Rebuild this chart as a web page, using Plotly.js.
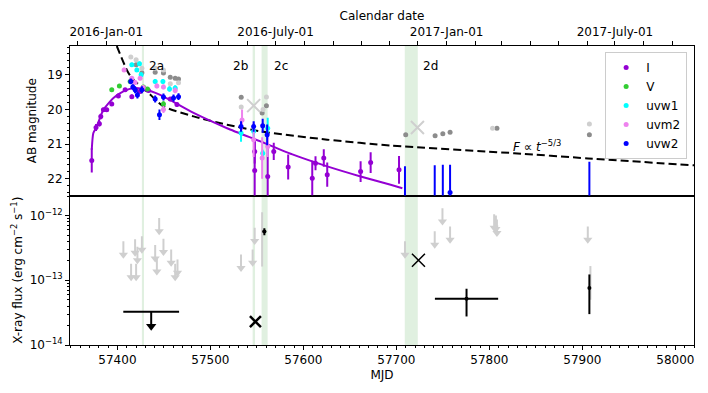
<!DOCTYPE html>
<html>
<head>
<meta charset="utf-8">
<script src="https://cdn.plot.ly/plotly-3.0.1.min.js"></script>
<style>
  html, body { margin: 0; padding: 0; background: #fff; }
  #plot { width: 708px; height: 393px; }
</style>
</head>
<body>
<div id="plot"></div>
<script>
// ---- optical / UV photometry (AB mag) ----
var iMjd = [57372.4, 57377.0, 57380.6, 57382.1, 57384.9, 57388.5, 57393.9, 57401.0, 57408.3, 57415.5, 57420.1, 57424.4, 57429.8, 57433.4, 57456.8, 57464.0, 57547.6, 57547.6, 57561.6, 57568.1, 57583.6, 57609.5, 57613.0, 57621.9, 57625.6, 57661.5, 57672.3, 57702.8];
var iMag = [21.47, 20.52, 20.41, 20.20, 20.01, 20.01, 19.84, 19.61, 19.43, 19.63, 19.43, 19.48, 19.41, 19.45, 19.70, 19.86, 21.21, 21.76, 21.93, 21.21, 21.66, 21.98, 21.55, 21.40, 21.88, 21.79, 21.53, 21.74];
var iErr = [0.35, 0.1, 0.08, 0.08, 0.06, 0.06, 0.06, 0.06, 0.05, 0.06, 0.05, 0.05, 0.05, 0.05, 0.06, 0.06, 0.35, 0.9, 0.86, 0.25, 0.36, 0.5, 0.2, 0.25, 0.35, 0.3, 0.3, 0.4];

var vMjd = [57393.9, 57402.1, 57413.7, 57427.9, 57432.3, 57449.5];
var vMag = [19.43, 19.32, 19.19, 19.35, 19.41, 19.84];
var vErr = [0.04, 0.04, 0.04, 0.05, 0.05, 0.08];

var w1Mjd = [57415.5, 57420.9, 57423.7, 57425.5, 57440.6, 57448.9, 57456.0, 57462.1, 57532.9, 57546.5, 57556.2, 57561.6];
var w1Mag = [18.71, 18.86, 18.68, 19.00, 19.19, 19.19, 19.41, 19.38, 20.68, 20.63, 21.26, 20.54];
var w1Err = [0.06, 0.06, 0.06, 0.07, 0.07, 0.07, 0.08, 0.08, 0.25, 0.2, 0.1, 0.3];

var m2Mjd = [57407.2, 57415.5, 57419.0, 57424.4, 57427.7, 57442.4, 57449.5, 57449.5, 57462.1, 57534.0, 57546.5, 57555.6, 57561.6];
var m2Mag = [18.86, 19.10, 19.22, 19.10, 19.37, 19.32, 19.35, 20.00, 19.45, 20.30, 20.87, 21.40, 21.07];
var m2Err = [0.06, 0.06, 0.07, 0.06, 0.07, 0.07, 0.07, 0.1, 0.08, 0.3, 0.5, 0.6, 0.3];

var w2Mjd = [57414.4, 57416.6, 57419.0, 57421.5, 57426.3, 57440.6, 57445.2, 57449.5, 57460.3, 57465.7, 57532.9, 57546.5, 57556.2, 57561.0];
var w2Mag = [19.19, 19.35, 19.43, 19.58, 19.43, 19.70, 20.15, 19.64, 19.67, 19.63, 20.49, 20.49, 20.47, 20.73];
var w2Err = [0.08, 0.08, 0.1, 0.1, 0.1, 0.1, 0.15, 0.1, 0.1, 0.1, 0.15, 0.15, 0.2, 0.3];

// uvw2 late epochs: faint points, error bar reaching up into the panel
var w2LimMjd = [57709.2, 57741.2, 57749.9, 57757.7, 57907.5];
var w2LimMag = [23.10, 23.10, 23.10, 22.39, 23.10];
var w2LimErr = [1.46, 1.49, 1.51, 0.80, 1.59];

// host / comparison photometry (grey)
var greyMjd = [57420.1, 57426.3, 57440.6, 57449.5, 57456.8, 57462.1, 57465.7, 57533.1, 57555.6, 57560.2, 57710.0, 57741.6, 57749.9, 57757.7, 57808.1, 57907.5];
var greyMag = [18.71, 18.94, 18.93, 18.95, 19.07, 19.10, 19.12, 19.65, 20.10, 19.89, 20.73, 20.76, 20.70, 20.66, 20.54, 20.73];
var lgreyMjd = [57414.4, 57420.1, 57426.3, 57440.6, 57449.5, 57456.8, 57462.1, 57465.7, 57533.1, 57556.6, 57560.2, 57803.4, 57907.5];
var lgreyMag = [18.49, 18.57, 18.81, 18.81, 18.86, 19.26, 19.40, 19.23, 19.93, 20.00, 19.64, 20.54, 20.42];
var lgreyXMjd = [57546.5, 57722.6];
var lgreyXMag = [19.89, 20.52];

// model curves
var fitMjd = [57372.4, 57374.1, 57377.8, 57384.9, 57395.7, 57406.4, 57417.2, 57428.0, 57446.0, 57481.9, 57517.9, 57553.7, 57589.6, 57625.6, 57661.5, 57693.8, 57706.4];
var fitMag = [21.16, 20.68, 20.49, 20.01, 19.67, 19.48, 19.38, 19.41, 19.58, 20.10, 20.54, 20.92, 21.31, 21.64, 21.93, 22.17, 22.27];
var plMjd = [57399.3, 57410.1, 57415.5, 57431.7, 57449.5, 57481.9, 57517.9, 57553.7, 57625.6, 57693.8, 57826.4, 57906.0, 58020.0];
var plMag = [18.17, 18.86, 19.10, 19.48, 19.91, 20.20, 20.44, 20.63, 20.87, 21.04, 21.26, 21.41, 21.61];

// ---- X-ray ----
var xulMjd = [57406.4, 57419.0, 57421.5, 57426.3, 57414.7, 57420.1, 57444.9, 57440.6, 57442.4, 57449.5, 57457.8, 57462.1, 57464.6, 57532.9, 57545.4, 57547.6, 57709.2, 57749.5, 57741.2, 57757.7, 57805.1, 57808.1, 57807.0, 57905.8];
var xulFlux = [4.0e-13, 4.3e-13, 3.3e-13, 4.8e-13, 1.8e-13, 1.8e-13, 9.2e-13, 3.5e-13, 2.2e-13, 4.4e-13, 3.0e-13, 1.8e-13, 2.1e-13, 2.5e-13, 3.0e-13, 6.5e-13, 4.0e-13, 1.3e-12, 5.7e-13, 6.8e-13, 1.05e-12, 8.7e-13, 1.0e-12, 6.8e-13];
var xgMjd = [57555.6, 57908.6];
var xgFlux = [4.3e-13, 9.3e-14];
var xgUp = [7.0e-13, 7.3e-14];
var xgDn = [2.67e-13, 4.3e-14];

var xdMjd = [57558.0, 57775.4, 57907.5];
var xdFlux = [5.66e-13, 5.2e-14, 7.6e-14];
var xdUp = [0.7e-13, 2.2e-14, 4.7e-14];
var xdDn = [0.7e-13, 2.44e-14, 4.6e-14];
var xdXerr = [2, 34, 0];

var stackMjd = 57436.3, stackFlux = 3.25e-14, stackHalf = 30;
var crossMjd = [57548.4, 57723.7];
var crossFlux = [2.3e-14, 2.04e-13];

// epochs of the spectra (shaded)
var bandLo = [57426.3, 57545.4, 57555.0, 57709.0];
var bandHi = [57428.6, 57548.0, 57561.5, 57723.0];
var bandTxt = ["2a", "2b", "2c", "2d"];

var calMonths = [57357, 57419, 57448, 57479, 57509, 57540, 57601, 57632, 57662, 57693, 57723, 57785, 57813, 57844, 57874, 57905, 57966, 57997];
var calVals = [57388, 57570, 57754, 57935];
var calText = ["2016-Jan-01", "2016-July-01", "2017-Jan-01", "2017-July-01"];

var FONT = "DejaVu Sans, sans-serif";
var xr = [57349, 58020];

function phot(name, x, y, e, color) {
    return {
        x: x, y: y, name: name, type: "scatter", mode: "markers",
        xaxis: "x2", yaxis: "y",
        marker: {color: color, size: 5},
        error_y: {type: "data", array: e, color: color, thickness: 2, width: 0}
    };
}

var traces = [];

traces.push({x: greyMjd, y: greyMag, type: "scatter", mode: "markers", xaxis: "x2", yaxis: "y",
    marker: {color: "#8c8c8c", size: 5}, error_y: {type: "constant", value: 0.05, color: "#8c8c8c", thickness: 2, width: 0}, showlegend: false});
traces.push({x: lgreyMjd, y: lgreyMag, type: "scatter", mode: "markers", xaxis: "x2", yaxis: "y",
    marker: {color: "#cfcfcf", size: 5}, error_y: {type: "constant", value: 0.05, color: "#cfcfcf", thickness: 2, width: 0}, showlegend: false});
traces.push({x: lgreyXMjd, y: lgreyXMag, type: "scatter", mode: "markers", xaxis: "x2", yaxis: "y",
    marker: {symbol: "x-thin-open", size: 13, color: "#cfcfcf", line: {color: "#cfcfcf", width: 2}}, showlegend: false});

traces.push({x: plMjd, y: plMag, type: "scatter", mode: "lines", xaxis: "x2", yaxis: "y",
    line: {color: "black", width: 2, dash: "8px,4px", shape: "spline", smoothing: 0.6}, showlegend: false});
traces.push({x: fitMjd, y: fitMag, type: "scatter", mode: "lines", xaxis: "x2", yaxis: "y",
    line: {color: "#9400d3", width: 2, shape: "spline", smoothing: 0.6}, showlegend: false});

traces.push(phot("I", iMjd, iMag, iErr, "#9400d3"));
traces.push(phot("V", vMjd, vMag, vErr, "#32cd32"));
traces.push(phot("uvw1", w1Mjd, w1Mag, w1Err, "#00ffff"));
traces.push(phot("uvm2", m2Mjd, m2Mag, m2Err, "#ee82ee"));
traces.push(phot("uvw2", w2Mjd, w2Mag, w2Err, "#0000ff"));
var lim = phot("uvw2", w2LimMjd, w2LimMag, w2LimErr, "#0000ff");
lim.showlegend = false;
traces.push(lim);

// dummy trace so the calendar axis is drawn
traces.push({x: [xr[0], xr[1]], y: [null, null], type: "scatter", mode: "markers", xaxis: "x3", yaxis: "y", showlegend: false, hoverinfo: "skip"});

// X-ray upper limits: shaft from the limit down, arrow head at the end
var ulTip = xulFlux.map(function (f) { return f * 0.62; });
traces.push({x: xulMjd, y: xulFlux, type: "scatter", mode: "markers", xaxis: "x", yaxis: "y2",
    marker: {size: 1, color: "rgba(0,0,0,0)"},
    error_y: {type: "data", array: xulFlux.map(function () { return 0; }), arrayminus: xulFlux.map(function (f, k) { return f - ulTip[k]; }), color: "#cfcfcf", thickness: 2, width: 0},
    showlegend: false});
traces.push({x: xulMjd, y: ulTip, type: "scatter", mode: "markers", xaxis: "x", yaxis: "y2",
    marker: {symbol: "triangle-down", size: 8, color: "#cfcfcf"}, showlegend: false});
traces.push({x: xgMjd, y: xgFlux, type: "scatter", mode: "markers", xaxis: "x", yaxis: "y2",
    marker: {size: 1, color: "rgba(0,0,0,0)"},
    error_y: {type: "data", array: xgUp, arrayminus: xgDn, color: "#cfcfcf", thickness: 2, width: 0}, showlegend: false});

var stackTip = stackFlux * 0.6;
traces.push({x: [stackMjd], y: [stackFlux], type: "scatter", mode: "markers", xaxis: "x", yaxis: "y2",
    marker: {size: 1, color: "rgba(0,0,0,0)"},
    error_x: {type: "constant", value: stackHalf, color: "black", thickness: 2, width: 0},
    error_y: {type: "data", array: [0], arrayminus: [stackFlux - stackTip], color: "black", thickness: 2, width: 0},
    showlegend: false});
traces.push({x: [stackMjd], y: [stackTip], type: "scatter", mode: "markers", xaxis: "x", yaxis: "y2",
    marker: {symbol: "triangle-down", size: 9, color: "black"}, showlegend: false});

traces.push({x: xdMjd, y: xdFlux, type: "scatter", mode: "markers", xaxis: "x", yaxis: "y2",
    marker: {size: 4, color: "black"},
    error_x: {type: "data", array: xdXerr, color: "black", thickness: 2, width: 0},
    error_y: {type: "data", array: xdUp, arrayminus: xdDn, color: "black", thickness: 2, width: 0}, showlegend: false});
traces.push({x: [crossMjd[0]], y: [crossFlux[0]], type: "scatter", mode: "markers", xaxis: "x", yaxis: "y2",
    marker: {symbol: "x-thin-open", size: 11, color: "black", line: {color: "black", width: 2.5}}, showlegend: false});
traces.push({x: [crossMjd[1]], y: [crossFlux[1]], type: "scatter", mode: "markers", xaxis: "x", yaxis: "y2",
    marker: {symbol: "x-thin-open", size: 13, color: "black", line: {color: "black", width: 1.5}}, showlegend: false});

// shaded epochs + labels
var shapes = [];
var annotations = [];
var shift = [3, -3, 4, 3];
for (var k = 0; k < bandLo.length; k++) {
    shapes.push({type: "rect", xref: "x", yref: "paper", x0: bandLo[k], x1: bandHi[k], y0: 0, y1: 1,
        fillcolor: "rgba(0,128,0,0.12)", line: {width: 0}, layer: "below"});
    annotations.push({x: shift[k] < 0 ? bandLo[k] : bandHi[k], y: 0.963, xref: "x", yref: "paper",
        text: bandTxt[k], showarrow: false, xanchor: shift[k] < 0 ? "right" : "left", xshift: shift[k],
        font: {family: FONT, size: 12, color: "black"}});
}
annotations.push({x: 57851, y: 21.04, xref: "x2", yref: "y", showarrow: false,
    text: "<i>F</i> \u221d <i>t</i><sup>\u22125/3</sup>", font: {family: FONT, size: 12, color: "black"}});

// log minor ticks
var logMinor = [];
for (var d = -14; d < -11; d++) {
    for (var m = 2; m < 10; m++) logMinor.push(m * Math.pow(10, d));
}

var axisFont = {family: FONT, size: 12, color: "black"};
var layout = {
    width: 708, height: 393,
    margin: {l: 70, r: 14, t: 46, b: 48},
    paper_bgcolor: "white", plot_bgcolor: "white",
    font: axisFont,
    showlegend: true,
    legend: {x: 0.989, y: 0.98, xanchor: "right", yanchor: "top", bgcolor: "rgba(255,255,255,0.9)",
        bordercolor: "#cccccc", borderwidth: 1, font: {family: FONT, size: 12}, tracegroupgap: 0},
    xaxis: {domain: [0, 1], anchor: "y2", range: xr, showgrid: false, zeroline: false,
        showline: true, mirror: true, linecolor: "black", linewidth: 1,
        ticks: "outside", ticklen: 4, tickcolor: "black", dtick: 100, tick0: 57400,
        minor: {dtick: 10, ticks: "outside", ticklen: 2, tickcolor: "black"},
        tickformat: "d", tickfont: axisFont,
        title: {text: "MJD", font: axisFont, standoff: 4}},
    xaxis2: {domain: [0, 1], anchor: "y", matches: "x", range: xr, showgrid: false, zeroline: false,
        showline: true, mirror: true, linecolor: "black", linewidth: 1, showticklabels: false, ticks: ""},
    xaxis3: {overlaying: "x2", anchor: "y", side: "top", range: xr, showgrid: false, zeroline: false,
        showline: false, tickmode: "array", tickvals: calVals, ticktext: calText,
        ticks: "outside", ticklen: 4, tickcolor: "black", tickfont: axisFont,
        minor: {tickvals: calMonths, ticks: "outside", ticklen: 4, tickcolor: "black"},
        title: {text: "Calendar date", font: axisFont, standoff: 2}},
    yaxis: {domain: [0.5, 1], anchor: "x2", range: [22.48, 18.17], showgrid: false, zeroline: false,
        showline: true, mirror: true, linecolor: "black", linewidth: 1,
        ticks: "outside", ticklen: 4, tickcolor: "black", tickvals: [19, 20, 21, 22],
        minor: {dtick: 0.2, tick0: 0, ticks: "outside", ticklen: 2, tickcolor: "black"},
        tickfont: axisFont, title: {text: "AB magnitude", font: axisFont, standoff: 8}},
    yaxis2: {domain: [0, 0.5], anchor: "x", type: "log", range: [-14, -11.69], showgrid: false, zeroline: false,
        showline: true, mirror: true, linecolor: "black", linewidth: 1,
        ticks: "outside", ticklen: 4, tickcolor: "black", tickmode: "array",
        tickvals: [1e-14, 1e-13, 1e-12],
        ticktext: ["10<sup>\u221214</sup>", "10<sup>\u221213</sup>", "10<sup>\u221212</sup>"],
        minor: {tickvals: logMinor, ticks: "outside", ticklen: 2, tickcolor: "black"},
        tickfont: axisFont,
        title: {text: "X-ray flux (erg cm<sup>\u22122</sup> s<sup>\u22121</sup>)", font: axisFont, standoff: 4}},
    shapes: shapes,
    annotations: annotations
};

Plotly.newPlot("plot", traces, layout, {displayModeBar: false, staticPlot: true});
</script>
</body>
</html>
